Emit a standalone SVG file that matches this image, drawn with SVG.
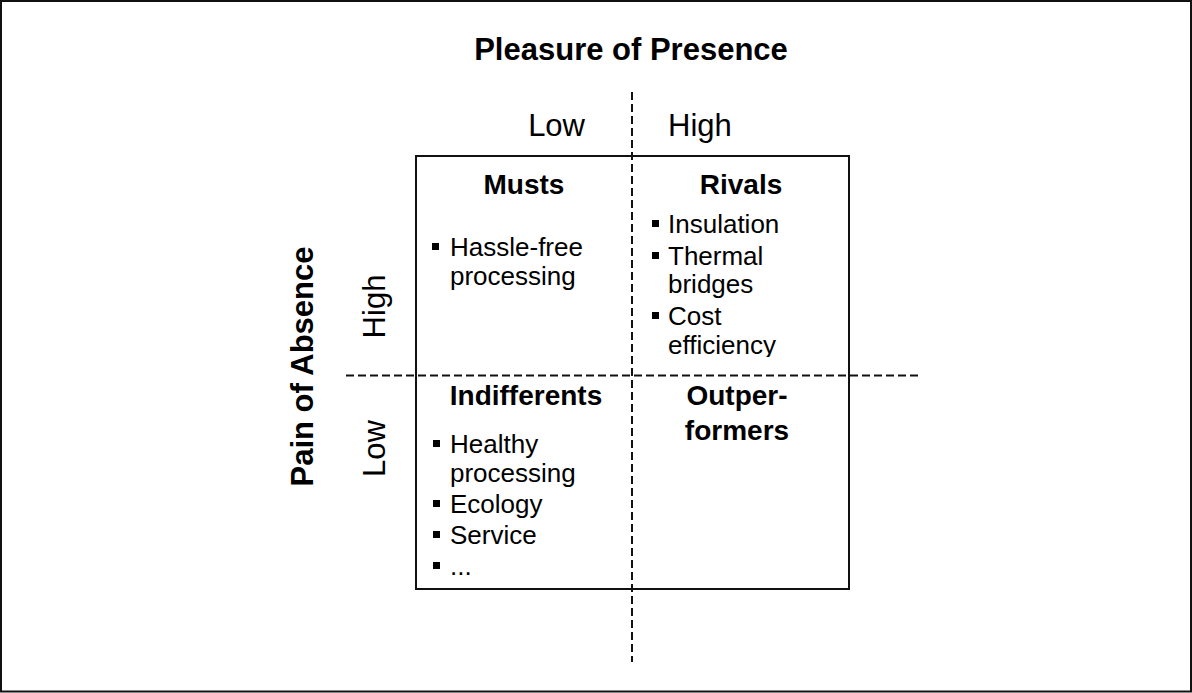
<svg xmlns="http://www.w3.org/2000/svg" width="1192" height="693" viewBox="0 0 1192 693">
  <style>
    .t { font-family: "Liberation Sans", Arial, sans-serif; fill: #000; }
    .axis { font-size: 31px; font-weight: bold; }
    .lvl { font-size: 31px; }
    .head { font-size: 28px; font-weight: bold; text-anchor: middle; }
    .item { font-size: 26px; }
    .dash { stroke: #111; stroke-width: 2; stroke-dasharray: 8 4; fill: none; }
    .frame { fill: none; stroke: #111; stroke-width: 2; }
    .sq { fill: #000; }
  </style>
  <defs>
    <clipPath id="clipRivals">
      <rect x="632" y="156" width="217" height="201"/>
    </clipPath>
  </defs>

  <rect width="1192" height="693" fill="#fff"/>
  <rect x="1" y="1" width="1190" height="690.5" class="frame"/>

  <!-- axis titles -->
  <g id="axis-x-title">
    <text class="t axis" x="631" y="60" text-anchor="middle">Pleasure of Presence</text>
  </g>
  <g id="axis-y-title">
    <text class="t axis" transform="translate(313 366.5) rotate(-90)" text-anchor="middle">Pain of Absence</text>
  </g>

  <!-- level labels -->
  <g id="levels">
    <text class="t lvl" x="585" y="136" text-anchor="end">Low</text>
    <text class="t lvl" x="668" y="136">High</text>
    <text class="t lvl" transform="translate(385 306.5) rotate(-90)" text-anchor="middle">High</text>
    <text class="t lvl" transform="translate(385 448.5) rotate(-90)" text-anchor="middle">Low</text>
  </g>

  <!-- matrix frame -->
  <g id="matrix">
    <rect x="416" y="156" width="433" height="433" class="frame"/>
  </g>

  <!-- dividing lines -->
  <g id="connectors">
    <line x1="632" y1="92" x2="632" y2="662" class="dash"/>
    <line x1="346" y1="375.5" x2="920" y2="375.5" class="dash"/>
  </g>

  <g id="musts">
    <text class="t head" x="524" y="194">Musts</text>
    <rect class="sq" x="432" y="243" width="7" height="7"/>
    <text class="t item" x="450" y="256">Hassle-free</text>
    <text class="t item" x="450" y="285">processing</text>
  </g>

  <g id="rivals">
    <text class="t head" x="741" y="194">Rivals</text>
    <g clip-path="url(#clipRivals)">
      <rect class="sq" x="652" y="220" width="7" height="7"/>
      <text class="t item" x="668" y="233">Insulation</text>
      <rect class="sq" x="652" y="252" width="7" height="7"/>
      <text class="t item" x="668" y="265">Thermal</text>
      <text class="t item" x="668" y="293">bridges</text>
      <rect class="sq" x="652" y="312" width="7" height="7"/>
      <text class="t item" x="668" y="325">Cost</text>
      <text class="t item" x="668" y="354">efficiency</text>
    </g>
  </g>

  <g id="indifferents">
    <text class="t head" x="526" y="405">Indifferents</text>
    <rect class="sq" x="433" y="440" width="7" height="7"/>
    <text class="t item" x="450" y="453">Healthy</text>
    <text class="t item" x="450" y="482">processing</text>
    <rect class="sq" x="433" y="500" width="7" height="7"/>
    <text class="t item" x="450" y="513">Ecology</text>
    <rect class="sq" x="433" y="531" width="7" height="7"/>
    <text class="t item" x="450" y="544">Service</text>
    <rect class="sq" x="433" y="562" width="7" height="7"/>
    <text class="t item" x="450" y="575">...</text>
  </g>

  <g id="outperformers">
    <text class="t head" x="737" y="405">Outper-</text>
    <text class="t head" x="737" y="440">formers</text>
  </g>
</svg>
